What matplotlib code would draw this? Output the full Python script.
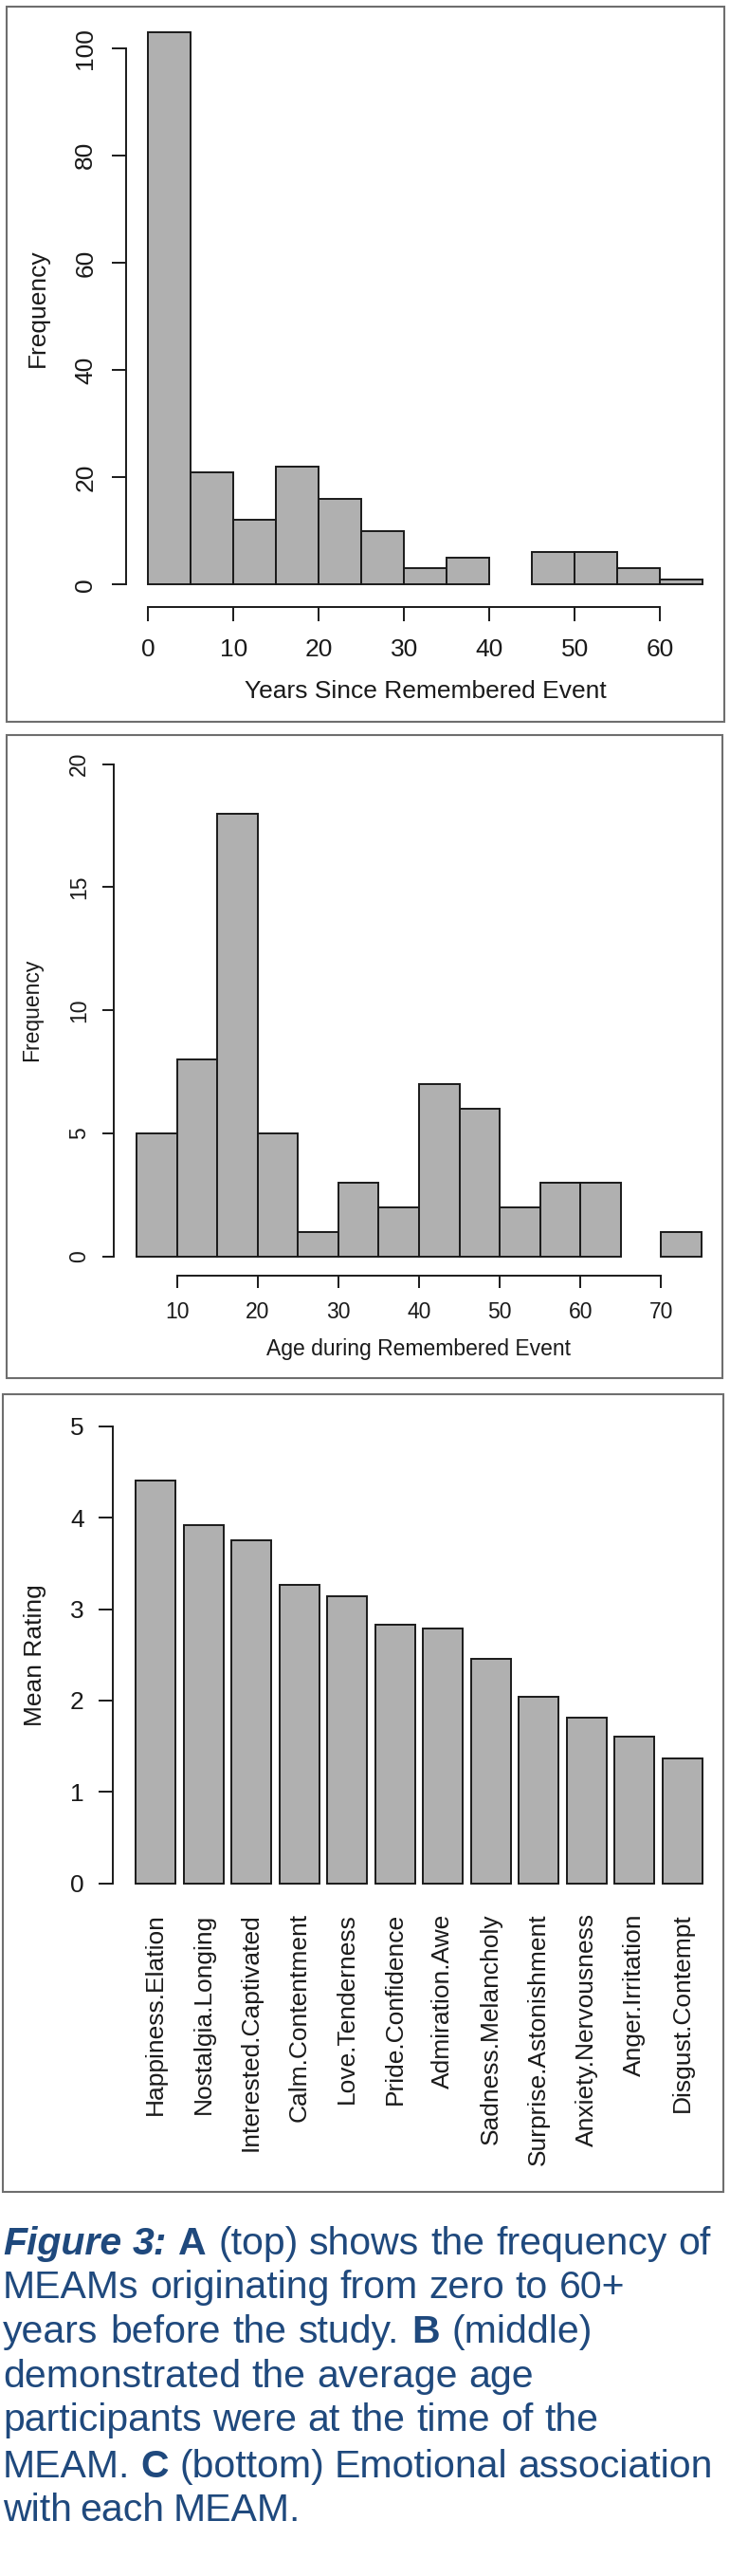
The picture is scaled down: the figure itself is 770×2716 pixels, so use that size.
"""
Figure 3 panels: years since remembered event, age during event, mean emotion ratings.
Saves out.png (770 x 2716 px).
"""
import matplotlib
matplotlib.use("Agg")
import matplotlib.pyplot as plt
from matplotlib.patches import Rectangle

plt.rcParams["font.family"] = ["Liberation Sans", "DejaVu Sans"]

W, H = 770, 2716
BAR_FILL = "#b0b0b0"
INK = "#1a1a1a"
FRAME = "#6e6e6e"
CAPTION_BLUE = "#1f497d"

# ── Data ──────────────────────────────────────────────────────────────────────
years_edges = [0, 5, 10, 15, 20, 25, 30, 35, 40, 45, 50, 55, 60, 65]
years_counts = [103, 21, 12, 22, 16, 10, 3, 5, 0, 6, 6, 3, 1]
years_ticks = [0, 10, 20, 30, 40, 50, 60]
years_yticks = [0, 20, 40, 60, 80, 100]

age_edges = [5, 10, 15, 20, 25, 30, 35, 40, 45, 50, 55, 60, 65, 70, 75]
age_counts = [5, 8, 18, 5, 1, 3, 2, 7, 6, 2, 3, 3, 0, 1]
age_ticks = [10, 20, 30, 40, 50, 60, 70]
age_yticks = [0, 5, 10, 15, 20]

emotions = [
    "Happiness.Elation", "Nostalgia.Longing", "Interested.Captivated",
    "Calm.Contentment", "Love.Tenderness", "Pride.Confidence",
    "Admiration.Awe", "Sadness.Melancholy", "Surprise.Astonishment",
    "Anxiety.Nervousness", "Anger.Irritation", "Disgust.Contempt",
]
mean_rating = [4.41, 3.92, 3.75, 3.27, 3.14, 2.83, 2.79, 2.46, 2.04, 1.81, 1.60, 1.37]
rating_yticks = [0, 1, 2, 3, 4, 5]

caption_lines = [
    [("Figure", "bi"), ("3:", "bi"), ("A", "b"), ("(top)", "r"), ("shows", "r"),
     ("the", "r"), ("frequency", "r"), ("of", "r")],
    [("MEAMs", "r"), ("originating", "r"), ("from", "r"), ("zero", "r"),
     ("to", "r"), ("60+", "r")],
    [("years", "r"), ("before", "r"), ("the", "r"), ("study.", "r"), ("B", "b"),
     ("(middle)", "r")],
    [("demonstrated", "r"), ("the", "r"), ("average", "r"), ("age", "r")],
    [("participants", "r"), ("were", "r"), ("at", "r"), ("the", "r"), ("time", "r"),
     ("of", "r"), ("the", "r")],
    [("MEAM.", "r"), ("C", "b"), ("(bottom)", "r"), ("Emotional", "r"),
     ("association", "r")],
    [("with", "r"), ("each", "r"), ("MEAM.", "r")],
]


def px_rect(x0, y0, x1, y1):
    """Pixel box (top-left origin) -> figure fraction [left, bottom, w, h]."""
    return [x0 / W, 1 - y1 / H, (x1 - x0) / W, (y1 - y0) / H]


def r_style(ax, fs, tick_len, ypad, xpad):
    for side in ("top", "right"):
        ax.spines[side].set_visible(False)
    for side in ("left", "bottom"):
        ax.spines[side].set_linewidth(1.4)
        ax.spines[side].set_color(INK)
    ax.tick_params(direction="out", length=tick_len, width=1.4, colors=INK,
                   labelsize=fs)
    ax.tick_params(axis="y", pad=ypad)
    ax.tick_params(axis="x", pad=xpad)


fig = plt.figure(figsize=(W / 100, H / 100), dpi=100)

# ── A: years since remembered event ───────────────────────────────────────────
ax = fig.add_axes(px_rect(132.8, 10.3, 764.9, 639.7))
ax.bar(years_edges[:-1], years_counts, width=5, align="edge", color=BAR_FILL,
       edgecolor=INK, linewidth=[1.4 if c else 0 for c in years_counts])
ax.set_xlim(-2.6, 67.6)
ax.set_ylim(-4.12, 107.12)
ax.set_xticks(years_ticks)
ax.set_yticks(years_yticks)
ax.spines["left"].set_bounds(0, 100)
ax.spines["bottom"].set_bounds(0, 60)
r_style(ax, 19, 11, 11, 13)
ax.tick_params(axis="y", labelrotation=90)
for lab in ax.get_yticklabels():
    lab.set_va("center")
ax.set_xlabel("Years Since Remembered Event", fontsize=19, color=INK, va="center")
ax.xaxis.set_label_coords(0.5, -0.1419)
ax.set_ylabel("Frequency", fontsize=19, color=INK, va="center")
ax.yaxis.set_label_coords(-0.1468, 0.5)

# ── B: age during remembered event ────────────────────────────────────────────
ax = fig.add_axes(px_rect(120.2, 785.0, 763.8, 1345.3))
ax.bar(age_edges[:-1], age_counts, width=5, align="edge", color=BAR_FILL,
       edgecolor=INK, linewidth=[1.4 if c else 0 for c in age_counts])
ax.set_xlim(2.2, 77.8)
ax.set_ylim(-0.8, 20.8)
ax.set_xticks(age_ticks)
ax.set_yticks(age_yticks)
ax.spines["left"].set_bounds(0, 20)
ax.spines["bottom"].set_bounds(10, 70)
r_style(ax, 16.5, 9, 9, 10)
ax.tick_params(axis="y", labelrotation=90)
for lab in ax.get_yticklabels():
    lab.set_va("center")
ax.set_xlabel("Age during Remembered Event", fontsize=16.5, color=INK, va="center")
ax.xaxis.set_label_coords(0.5, -0.1369)
ax.set_ylabel("Frequency", fontsize=16.5, color=INK, va="center")
ax.yaxis.set_label_coords(-0.1339, 0.5)

# ── C: mean rating per emotion ────────────────────────────────────────────────
ax = fig.add_axes(px_rect(119.1, 1484.7, 764.8, 2004.8))
bar_pos = [0.7 + 1.2 * i for i in range(len(emotions))]
ax.bar(bar_pos, mean_rating, width=1.0, color=BAR_FILL, edgecolor=INK,
       linewidth=1.4)
ax.set_xlim(-0.368, 14.968)
ax.set_ylim(-0.2, 5.2)
ax.set_yticks(rating_yticks)
ax.spines["left"].set_bounds(0, 5)
r_style(ax, 19, 11, 11, 9)
ax.spines["bottom"].set_visible(False)
ax.set_xticks(bar_pos)
ax.set_xticklabels(emotions, rotation=90)
ax.tick_params(axis="x", length=0)
ax.set_ylabel("Mean Rating", fontsize=19, color=INK, va="center")
ax.yaxis.set_label_coords(-0.1264, 0.5)

# ── Panel frames ──────────────────────────────────────────────────────────────
for x0, y0, x1, y1 in [(7, 7, 764, 761), (7, 775, 762, 1453), (3, 1470, 763, 2311)]:
    l, b, w, h = px_rect(x0, y0, x1, y1)
    fig.add_artist(Rectangle((l, b), w, h, transform=fig.transFigure, fill=False,
                             edgecolor=FRAME, linewidth=1.5))

# ── Caption ───────────────────────────────────────────────────────────────────
styles = {"bi": dict(weight="bold", style="italic"), "b": dict(weight="bold"), "r": {}}
baselines = [2377, 2423, 2470, 2517, 2563, 2612, 2658]
line_ends = [750, 659, 625, 563, 631, 752, 317]
start_x = 3

renderer = fig.canvas.get_renderer()
for words, base, end in zip(caption_lines, baselines, line_ends):
    texts = [fig.text(0, 1 - base / H, w, fontsize=29.5, color=CAPTION_BLUE,
                      va="baseline", ha="left", **styles[s]) for w, s in words]
    widths = [t.get_window_extent(renderer).width for t in texts]
    gap = (end - start_x - sum(widths)) / (len(texts) - 1)
    x = start_x
    for t, wd in zip(texts, widths):
        t.set_x(x / W)
        x += wd + gap

fig.savefig("out.png", dpi=100)
